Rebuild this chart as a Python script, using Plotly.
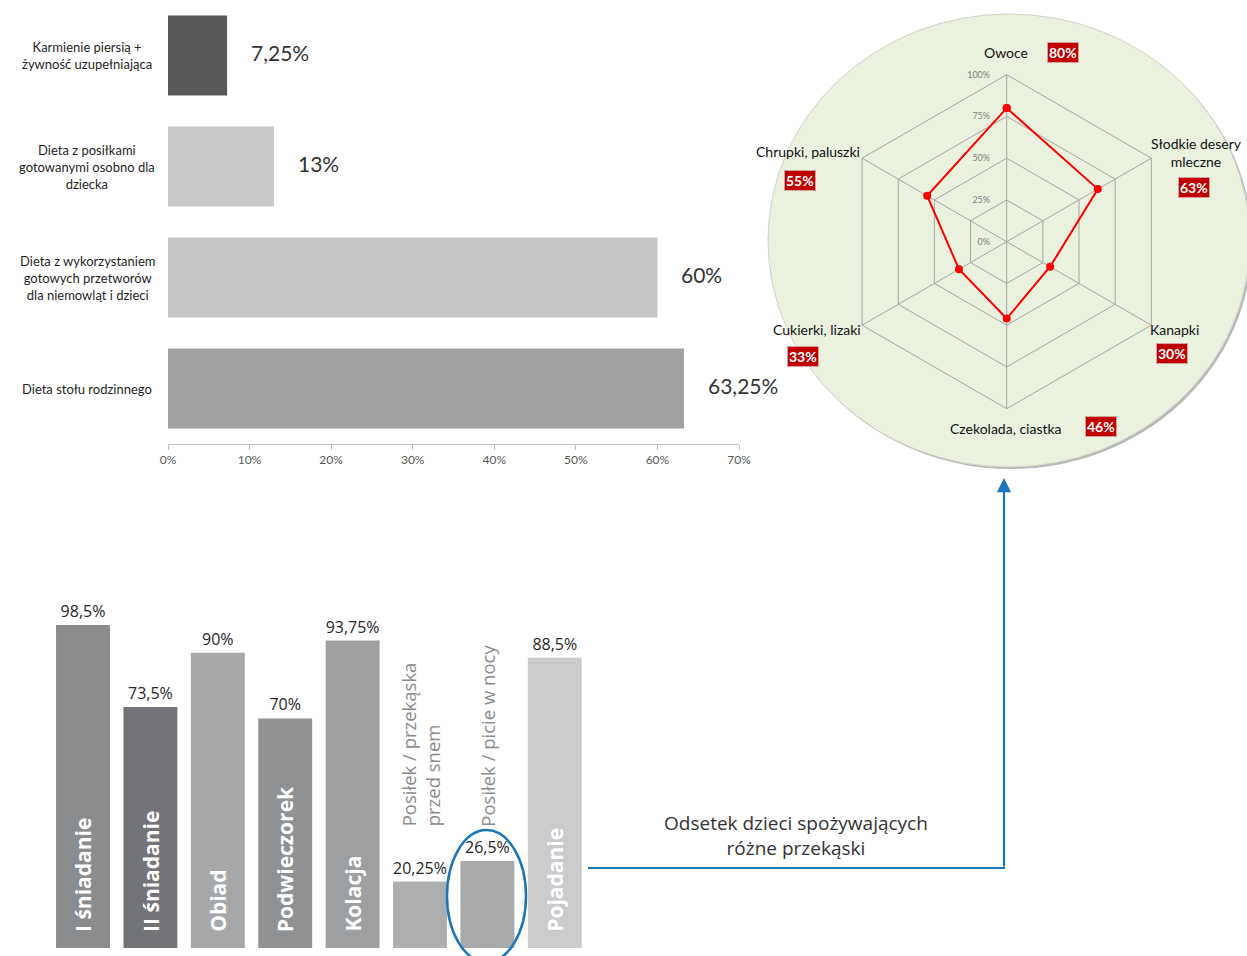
import plotly.graph_objects as go

W, H = 1247, 956

def px(x):
    return x / W

def py(y):
    return 1 - y / H

def fmt(v):
    return f"{v:g}".replace(".", ",") + "%"

# ---------------- data ----------------
diet_labels = [
    "Karmienie piersią +<br>żywność uzupełniająca",
    "Dieta z posiłkami<br>gotowanymi osobno dla<br>dziecka",
    "Dieta z wykorzystaniem<br>gotowych przetworów<br>dla niemowląt i dzieci",
    "Dieta stołu rodzinnego",
]
diet_values = [7.25, 13, 60, 63.25]
diet_colors = ["#58595b", "#c7c8ca", "#c4c5c7", "#a0a1a3"]
diet_ticks = [0, 10, 20, 30, 40, 50, 60, 70]

snack_cats = ["Owoce", "Słodkie desery<br>mleczne", "Kanapki",
              "Czekolada, ciastka", "Cukierki, lizaki", "Chrupki, paluszki"]
snack_values = [80, 63, 30, 46, 33, 55]
radar_ticks = [0, 25, 50, 75, 100]

meal_labels = ["I śniadanie", "II śniadanie", "Obiad", "Podwieczorek", "Kolacja",
               "Posiłek / przekąska<br>przed snem", "Posiłek / picie w nocy", "Pojadanie"]
meal_values = [98.5, 73.5, 90, 70, 93.75, 20.25, 26.5, 88.5]
meal_colors = ["#8b8c8e", "#737477", "#a6a7a9", "#909193", "#9e9fa1",
               "#adaeb0", "#a8a9ab", "#cacbcd"]
meal_outside_label = [False, False, False, False, False, True, True, False]

fig = go.Figure()

# ---------------- horizontal bar chart ----------------
cats = [f"c{i}" for i in range(len(diet_values))]
fig.add_trace(go.Bar(
    x=diet_values, y=cats, orientation="h", width=0.72,
    marker=dict(color=diet_colors, line=dict(width=0)),
    xaxis="x", yaxis="y", showlegend=False, hoverinfo="skip",
))

annotations = []
for c, lab, v in zip(cats, diet_labels, diet_values):
    annotations.append(dict(
        x=px(87), xref="paper", y=c, yref="y", text=lab, showarrow=False,
        align="center", xanchor="center", yanchor="middle",
        font=dict(family="Lato", size=13, color="#1f1f1f"),
    ))
    annotations.append(dict(
        x=v, xref="x", y=c, yref="y", text=fmt(v), showarrow=False,
        xanchor="left", yanchor="middle", xshift=22, yshift=3,
        font=dict(family="Lato", size=21, color="#333333"),
    ))

# ---------------- vertical bar chart ----------------
mcats = [f"m{i}" for i in range(len(meal_values))]
fig.add_trace(go.Bar(
    x=mcats, y=meal_values, width=0.8,
    marker=dict(color=meal_colors, line=dict(width=0)),
    text=[fmt(v) for v in meal_values], textposition="outside",
    textfont=dict(family="Open Sans", size=16, color="#262626"),
    cliponaxis=False, xaxis="x2", yaxis="y2", showlegend=False, hoverinfo="skip",
))

for c, lab, outside in zip(mcats, meal_labels, meal_outside_label):
    if outside:
        annotations.append(dict(
            x=c, xref="x2", y=36.5, yref="y2", text=lab, showarrow=False,
            textangle=-90, align="left", xanchor="center", yanchor="bottom",
            font=dict(family="Open Sans", size=18.5, color="#8c8c8c"),
        ))
    else:
        annotations.append(dict(
            x=c, xref="x2", y=0, yref="y2", text=lab, showarrow=False,
            textangle=-90, xanchor="center", yanchor="bottom", yshift=14,
            font=dict(family="Open Sans", size=21, color="#ffffff", weight="bold"),
        ))

# ---------------- radar chart ----------------
fig.add_trace(go.Scatterpolar(
    r=snack_values + snack_values[:1],
    theta=snack_cats + snack_cats[:1],
    mode="lines+markers",
    line=dict(color="#ff0000", width=2),
    marker=dict(color="#ff0000", size=8),
    subplot="polar", showlegend=False, hoverinfo="skip",
))

# label positions around the radar (label centre, value box centre)
label_pos = [
    ((1006, 53), (1063, 53)),
    ((1196, 153), (1194, 187)),
    ((1174, 329), (1172, 353)),
    ((1006, 428), (1101, 426)),
    ((817, 329), (803, 356)),
    ((808, 152), (800, 180)),
]
for lab, v, (lp, bp) in zip(snack_cats, snack_values, label_pos):
    annotations.append(dict(
        x=px(lp[0]), y=py(lp[1]), xref="paper", yref="paper", text=lab,
        showarrow=False, xanchor="center", yanchor="middle", align="center",
        font=dict(family="Lato", size=14, color="#111111"),
    ))
    annotations.append(dict(
        x=px(bp[0]), y=py(bp[1]), xref="paper", yref="paper", text=f"<b>{v}%</b>",
        showarrow=False, xanchor="center", yanchor="middle",
        bgcolor="#c00000", bordercolor="#d9a0a0", borderwidth=1, borderpad=1,
        font=dict(family="Lato", size=14, color="#ffffff"),
    ))

# connector text and arrow
annotations.append(dict(
    x=px(796), y=py(835), xref="paper", yref="paper",
    text="Odsetek dzieci spożywających<br>różne przekąski", showarrow=False,
    xanchor="center", yanchor="middle", align="center",
    font=dict(family="Open Sans", size=19, color="#333333"),
))
annotations.append(dict(
    x=px(1004), y=py(478), xref="paper", yref="paper", text="",
    showarrow=True, ax=0, ay=390, axref="pixel", ayref="pixel",
    arrowhead=2, arrowsize=1.3, arrowwidth=2.2, arrowcolor="#1b75bb",
))

shapes = [
    # shadow + green circle behind radar
    dict(type="circle", xref="paper", yref="paper", layer="below",
         x0=px(770), x1=px(1252), y0=py(469), y1=py(16),
         fillcolor="#b8b8b8", line=dict(width=0)),
    dict(type="circle", xref="paper", yref="paper", layer="below",
         x0=px(768), x1=px(1250), y0=py(467), y1=py(14),
         fillcolor="#ebf1df", line=dict(color="#cfd3c8", width=1)),
    # horizontal connector line
    dict(type="line", xref="paper", yref="paper",
         x0=px(588), x1=px(1005), y0=py(868), y1=py(868),
         line=dict(color="#1b75bb", width=2.2)),
    # blue ellipse highlight
    dict(type="circle", xref="paper", yref="paper",
         x0=px(447), x1=px(526), y0=py(962), y1=py(830),
         line=dict(color="#1b75bb", width=2.5)),
]

R = 167
cx, cy = 1006.7, 241.7

fig.update_layout(
    width=W, height=H, margin=dict(l=0, r=0, t=0, b=0, pad=0, autoexpand=False),
    paper_bgcolor="#ffffff", plot_bgcolor="rgba(0,0,0,0)",
    barmode="overlay",
    xaxis=dict(domain=[px(168), px(739)], range=[0, 70], anchor="y",
               tickmode="array", tickvals=diet_ticks,
               ticktext=[f"{t}%" for t in diet_ticks],
               showline=True, linecolor="#bfbfbf", automargin=False,
               linewidth=1, ticks="outside", ticklen=5, tickcolor="#bfbfbf",
               showgrid=False, zeroline=False,
               tickfont=dict(family="Lato", size=12, color="#595959")),
    yaxis=dict(domain=[py(444), 1.0], range=[3.5, -0.5], anchor="x",
               showticklabels=False, showgrid=False, zeroline=False, showline=False,
               type="category", automargin=False),
    xaxis2=dict(domain=[px(49.3), px(588.5)], range=[-0.5, 7.5], anchor="y2",
                visible=False, type="category", automargin=False),
    yaxis2=dict(domain=[py(948), py(620)], range=[0, 100], anchor="x2",
                visible=False, automargin=False),
    polar=dict(
        domain=dict(x=[px(cx - R), px(cx + R)], y=[py(cy + R), py(cy - R)]),
        bgcolor="rgba(0,0,0,0)", gridshape="linear",
        angularaxis=dict(rotation=90, direction="clockwise", showticklabels=False,
                         ticks="", showline=True, linecolor="#a6a6a6", linewidth=1,
                         gridcolor="#a6a6a6", gridwidth=1),
        radialaxis=dict(range=[0, 100], tickmode="array", tickvals=radar_ticks,
                        ticktext=[f"{t}%" for t in radar_ticks], tickangle=90,
                        angle=90, side="counterclockwise", showline=False,
                        ticks="outside", ticklen=13, tickcolor="rgba(0,0,0,0)",
                        gridcolor="#a6a6a6", gridwidth=1,
                        tickfont=dict(family="Lato", size=9, color="#808080")),
    ),
    annotations=annotations, shapes=shapes,
)

fig.write_html("out.html")
